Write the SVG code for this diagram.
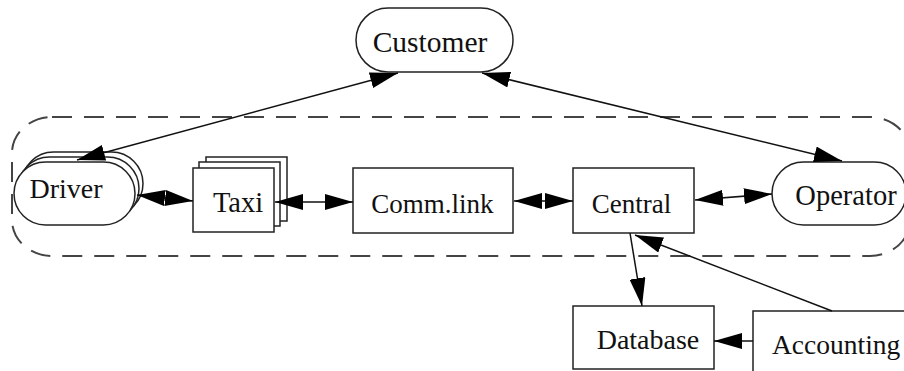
<svg xmlns="http://www.w3.org/2000/svg" width="904" height="371" viewBox="0 0 904 371">
<style>
.n{fill:#fff;stroke:#222;stroke-width:1.5}
.t{font-family:"Liberation Serif","Times New Roman",serif;font-size:27px;fill:#111;text-anchor:middle}
.c{fill:none;stroke:#111;stroke-width:1.5}
.d{marker-end:url(#ah)}
.b{marker-start:url(#ah);marker-end:url(#ah)}
</style>
<defs>
<marker id="ah" markerUnits="userSpaceOnUse" viewBox="0 0 28 16" refX="28" refY="8" markerWidth="28" markerHeight="16" orient="auto-start-reverse">
<path d="M0,0 L28,8 L0,16 z" fill="#000"/>
</marker>
</defs>
<rect id="boundary" x="12" y="117" width="898" height="139" rx="40" ry="36" fill="none" stroke="#444" stroke-width="2" stroke-dasharray="20 12"/>
<g id="customer"><rect class="n" x="356" y="8" width="157" height="64" rx="32"/><text class="t" x="430" y="52" style="font-size:29.5px">Customer</text></g>
<g id="driver">
<rect class="n" x="22" y="152" width="121" height="63" rx="31.5"/>
<rect class="n" x="18" y="157" width="121" height="63" rx="31.5"/>
<rect class="n" x="14" y="162" width="121" height="63" rx="31.5"/>
<text class="t" x="66" y="198" style="font-size:28px">Driver</text></g>
<g id="taxi">
<rect class="n" x="206" y="157" width="81" height="64"/>
<rect class="n" x="199" y="162" width="81" height="64"/>
<rect class="n" x="193" y="168" width="81" height="64"/>
<text class="t" x="238" y="212" style="font-size:28.5px">Taxi</text></g>
<g id="commlink"><rect class="n" x="353" y="168" width="160" height="65"/><text class="t" x="432.5" y="213">Comm.link</text></g>
<g id="central"><rect class="n" x="573" y="168" width="121" height="65"/><text class="t" x="631.5" y="213">Central</text></g>
<g id="operator"><rect class="n" x="772" y="162" width="134" height="63" rx="31.5"/><text class="t" x="846" y="205" style="font-size:28.5px">Operator</text></g>
<g id="database"><rect class="n" x="573" y="306" width="141" height="63"/><text class="t" x="648" y="349" style="font-size:28px">Database</text></g>
<g id="accounting"><rect class="n" x="753" y="311" width="170" height="80"/><text class="t" x="772" y="354" style="text-anchor:start;font-size:27.5px">Accounting</text></g>
<g id="connectors">
<line class="c b" x1="398" y1="73" x2="77" y2="160"/>
<line class="c b" x1="482" y1="73" x2="842" y2="161"/>
<line class="c b" x1="137" y1="195" x2="193" y2="201"/>
<line class="c b" x1="275" y1="202" x2="353" y2="202"/>
<line class="c b" x1="514" y1="201" x2="573" y2="201"/>
<line class="c b" x1="695" y1="200" x2="772" y2="194"/>
<line class="c d" x1="630" y1="233" x2="642" y2="306"/>
<line class="c d" x1="832" y1="311" x2="635" y2="235"/>
<line class="c d" x1="753" y1="341" x2="714" y2="341"/>
</g>
</svg>
